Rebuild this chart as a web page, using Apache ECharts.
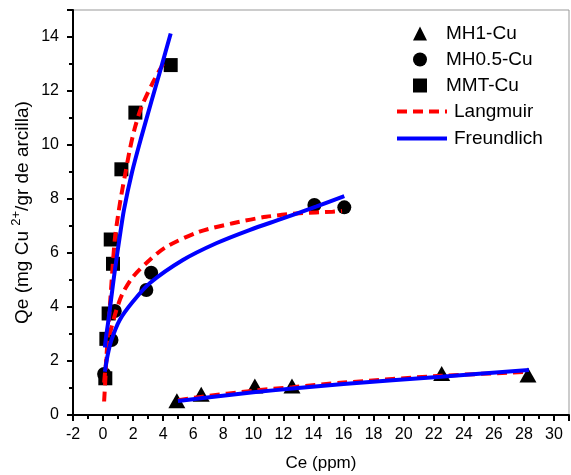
<!DOCTYPE html>
<html>
<head>
<meta charset="utf-8">
<script src="https://cdn.jsdelivr.net/npm/echarts@6/dist/echarts.min.js"></script>
<style>
html,body{margin:0;padding:0;background:#fff;}
#chart{width:571px;height:475px;}
</style>
</head>
<body>
<div id="chart"></div>
<script>
// Experimental points [Ce, Qe]
const mh1Points = [[4.91,0.53],[6.53,0.77],[10.1,1.07],[12.57,1.07],[22.53,1.54],[28.27,1.48]];
const mh05Points = [[0.07,1.52],[0.56,2.78],[0.78,3.85],[2.88,4.63],[3.2,5.27],[14.06,7.78],[16.05,7.69]];
const mmtPoints = [[0.15,1.36],[0.22,2.82],[0.37,3.76],[0.66,5.6],[0.51,6.5],[1.22,9.1],[2.15,11.2],[4.5,12.96]];

// Fitted curves [Ce, Qe]
const langmuirMMT = [[0.07,0.5],[0.15,1.3],[0.22,2.1],[0.35,3.2],[0.5,4.4],[0.65,5.6],[0.8,6.6],[1.0,7.4],[1.2,8.1],[1.45,8.85],[1.77,9.8],[2.1,10.6],[2.55,11.4],[3.3,12.3],[4.2,13.2]];
const freundlichMMT = [[0.12,2.5],[0.2,2.9],[0.33,3.4],[0.56,4.4],[0.82,5.5],[1.11,6.6],[1.39,7.6],[1.93,9.0],[2.55,10.3],[3.21,11.6],[3.88,12.9],[4.5,14.13]];
const langmuirMH05 = [[0.07,1.2],[0.22,2.04],[0.5,3.1],[0.89,3.89],[1.3,4.5],[1.99,5.12],[3.1,5.74],[4.21,6.23],[6.42,6.79],[8.63,7.1],[10.85,7.34],[13.06,7.47],[15.27,7.53],[15.9,7.56]];
const freundlichMH05 = [[0.12,1.6],[0.3,2.2],[0.56,2.78],[1.11,3.52],[1.99,4.2],[3.1,4.88],[5.31,5.74],[7.53,6.36],[9.74,6.85],[11.96,7.28],[14.17,7.72],[16.05,8.11]];
const langmuirMH1 = [[5.0,0.55],[6.5,0.67],[10,0.9],[12.6,1.03],[16,1.2],[22.5,1.45],[28.3,1.6]];
const freundlichMH1 = [[4.98,0.52],[6.5,0.62],[10,0.84],[12.6,0.98],[16,1.15],[22.5,1.42],[28.33,1.67]];

// Axis settings
const xMin = -2, xMax = 31, xStep = 2;
const yMin = 0, yMax = 15, yStep = 2;
const pointNames = ['MH1-Cu','MH0.5-Cu','MMT-Cu'];
const curveNames = ['Langmuir','Freundlich'];

const FONT = '"Liberation Sans", Arial, sans-serif';
const chart = echarts.init(document.getElementById('chart'), null, {renderer:'canvas'});

function scatter(name, data, symbol, size){
  return {name, type:'scatter', data, symbol, symbolSize:size, z:2,
    itemStyle:{color:'#000', opacity:1}};
}
function curve(name, data, color, dashed){
  return {name, type:'line', data, smooth:0.3, showSymbol:false, symbol:'none', z:3,
    lineStyle:{color, width:4, type: dashed ? [10,6] : 'solid'}, itemStyle:{color}};
}

chart.setOption({
  animation:false,
  backgroundColor:'#fff',
  textStyle:{fontFamily:FONT},
  grid:{left:73, top:10, right:2, bottom:60, show:true, borderColor:'#999', borderWidth:1,
    containLabel:false, outerBoundsMode:'none'},
  legend:[{
    data:pointNames, orient:'vertical', left:413, top:24, padding:0,
    itemWidth:14, itemHeight:14, itemGap:7,
    itemStyle:{opacity:1},
    textStyle:{fontFamily:FONT, fontSize:19, color:'#000', padding:[0,0,0,14]}
  },{
    data:curveNames, orient:'vertical', left:395, top:102, padding:0,
    itemWidth:50, itemHeight:14, itemGap:8,
    itemStyle:{opacity:0},
    lineStyle:{width:4},
    textStyle:{fontFamily:FONT, fontSize:19, color:'#000', padding:[0,0,0,2]}
  }],
  xAxis:{
    type:'value', min:xMin, max:xMax, interval:xStep,
    name:'Ce (ppm)', nameLocation:'middle', nameGap:40, nameMoveOverlap:false,
    nameTextStyle:{fontFamily:FONT, fontSize:17, color:'#000'},
    axisLine:{show:true, onZero:false, lineStyle:{color:'#000', width:2}},
    axisTick:{show:true, inside:false, length:6, lineStyle:{color:'#000', width:2}},
    minorTick:{show:true, splitNumber:2, length:4, lineStyle:{color:'#000', width:2}},
    axisLabel:{fontFamily:FONT, fontSize:16, color:'#000', margin:12, showMaxLabel:false},
    splitLine:{show:false}
  },
  yAxis:{
    type:'value', min:yMin, max:yMax, interval:yStep,
    name:'{a|Qe (mg Cu }{s|2+}{a|/gr de arcilla)}', nameLocation:'middle', nameGap:38, nameRotate:90,
    nameMoveOverlap:false,
    nameTextStyle:{fontFamily:FONT, fontSize:19, color:'#000',
      rich:{a:{fontFamily:FONT, fontSize:19, color:'#000'}, s:{fontFamily:FONT, fontSize:13, color:'#000', padding:[0,0,12,0]}}},
    axisLine:{show:true, onZero:false, lineStyle:{color:'#000', width:2}},
    axisTick:{show:true, inside:false, length:6, lineStyle:{color:'#000', width:2}},
    minorTick:{show:true, splitNumber:2, length:4, lineStyle:{color:'#000', width:2}},
    axisLabel:{fontFamily:FONT, fontSize:16, color:'#000', margin:14, showMaxLabel:false},
    splitLine:{show:false}
  },
  series:[
    scatter('MH1-Cu', mh1Points, 'triangle', [17,15]),
    scatter('MH0.5-Cu', mh05Points, 'circle', 14),
    scatter('MMT-Cu', mmtPoints, 'rect', 14),
    curve('Langmuir', langmuirMMT, '#ff0000', true),
    curve('Langmuir', langmuirMH05, '#ff0000', true),
    curve('Langmuir', langmuirMH1, '#ff0000', true),
    curve('Freundlich', freundlichMMT, '#0000ff', false),
    curve('Freundlich', freundlichMH05, '#0000ff', false),
    curve('Freundlich', freundlichMH1, '#0000ff', false)
  ]
});
</script>
</body>
</html>
